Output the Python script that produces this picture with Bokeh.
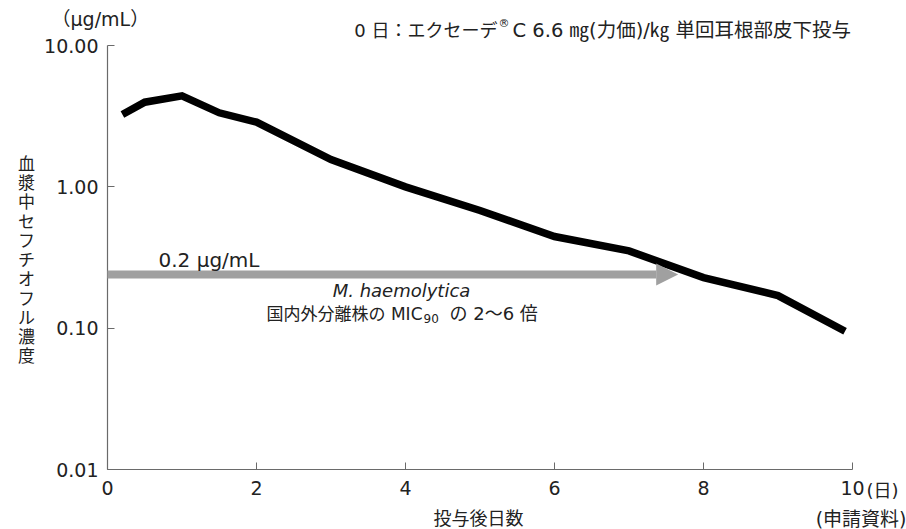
import math
from bokeh.plotting import figure
from bokeh.models import Label, Arrow, NormalHead, FixedTicker, PrintfTickFormatter, ColumnDataSource
from bokeh.embed import file_html
from bokeh.resources import INLINE

# data
days = [0.2, 0.5, 1, 1.5, 2, 3, 4, 5, 6, 7, 8, 9, 9.9]
conc = [3.25, 3.97, 4.4, 3.34, 2.87, 1.56, 1.0, 0.68, 0.445, 0.352, 0.228, 0.170, 0.095]
x_ticks = [0, 2, 4, 6, 8, 10]
y_ticks = [0.01, 0.1, 1, 10]
mic_level = 0.24
arrow_end_day = 7.66

W, H = 906, 529
# pixel geometry of the axes box
PX_L, PX_R, PX_T, PX_B = 107, 852, 45, 469
X0, X1 = 0, 10
Y0, Y1 = 0.01, 10
xs = (PX_R - PX_L) / (X1 - X0)
ys = (PX_B - PX_T) / (math.log10(Y1) - math.log10(Y0))
x_range = (X0 - PX_L / xs, X1 + (W - PX_R) / xs)
y_range = (10 ** (math.log10(Y0) - (H - PX_B) / ys), 10 ** (math.log10(Y1) + PX_T / ys))

CJK = "Noto Sans CJK JP"
MIX = "DejaVu Sans, Noto Sans CJK JP"
TXT = "#222222"

p = figure(width=W, height=H, y_axis_type="log",
           x_range=x_range, y_range=y_range,
           output_backend="svg", toolbar_location=None,
           min_border=0, min_border_left=0, min_border_right=0, min_border_top=0, min_border_bottom=0)
p.outline_line_color = None
p.grid.grid_line_color = None
p.background_fill_color = "white"
p.border_fill_color = "white"

for ax in (p.xaxis[0], p.yaxis[0]):
    ax.axis_line_color = "#6a6a6a"
    ax.axis_line_width = 1.2
    ax.major_tick_line_color = "#6a6a6a"
    ax.major_tick_in = 7
    ax.major_tick_out = 0
    ax.minor_tick_line_color = None
    ax.major_label_text_font = "DejaVu Sans"
    ax.major_label_text_font_size = "19px"
    ax.major_label_text_color = TXT

p.xaxis.ticker = FixedTicker(ticks=x_ticks)
p.xaxis.major_label_standoff = 11
p.xaxis.fixed_location = Y0
p.xaxis.bounds = (X0, X1)
p.yaxis.ticker = FixedTicker(ticks=y_ticks)
p.yaxis.formatter = PrintfTickFormatter(format="%.2f")
p.yaxis.major_label_standoff = 9
p.yaxis.fixed_location = X0
p.yaxis.bounds = (Y0, Y1)

src = ColumnDataSource(dict(x=days, y=conc))
p.line("x", "y", source=src, line_color="black", line_width=7.5, line_join="miter", line_cap="butt")

p.add_layout(Arrow(end=NormalHead(size=22, fill_color="#a0a0a0", line_color="#a0a0a0", line_width=0),
                   x_start=X0, y_start=mic_level, x_end=arrow_end_day, y_end=mic_level,
                   line_color="#a0a0a0", line_width=8))

def lab(text, X, Y, size="17px", align="left", baseline="middle", style="normal", font=MIX, lh=1.2):
    p.add_layout(Label(text=text, x=X, y=H - Y, x_units="screen", y_units="screen",
                       text_font=font, text_font_size=size, text_align=align,
                       text_baseline=baseline, text_font_style=style, text_color=TXT,
                       text_line_height=lh))

lab("0.2 μg/mL", 158, 259, size="20px")
lab("M. haemolytica", 401, 290, size="18px", style="italic", align="center")
lab("国内外分離株の MIC", 422, 313, align="right", size="17px")
lab("90", 423, 318, size="12px")
lab("の 2〜6 倍", 449, 313, size="18px")

lab("（μg/mL）", 51, 18, size="19px")
lab("0 日：エクセーデ", 497, 30, size="18px", align="right")
lab("®", 498, 23, size="11px")
lab("C 6.6 ㎎(力価)/㎏ 単回耳根部皮下投与", 512, 30, size="19.5px")
lab("(日)", 866, 490, size="18px")
lab("投与後日数", 478, 518, size="18px", align="center")
lab("(申請資料)", 906, 518, size="19px", align="right")
lab("\n".join("血漿中セフチオフル濃度"), 26, 258, size="17px", align="center", font=CJK, lh=0.77)

open("out.html", "w").write(file_html(p, INLINE))
